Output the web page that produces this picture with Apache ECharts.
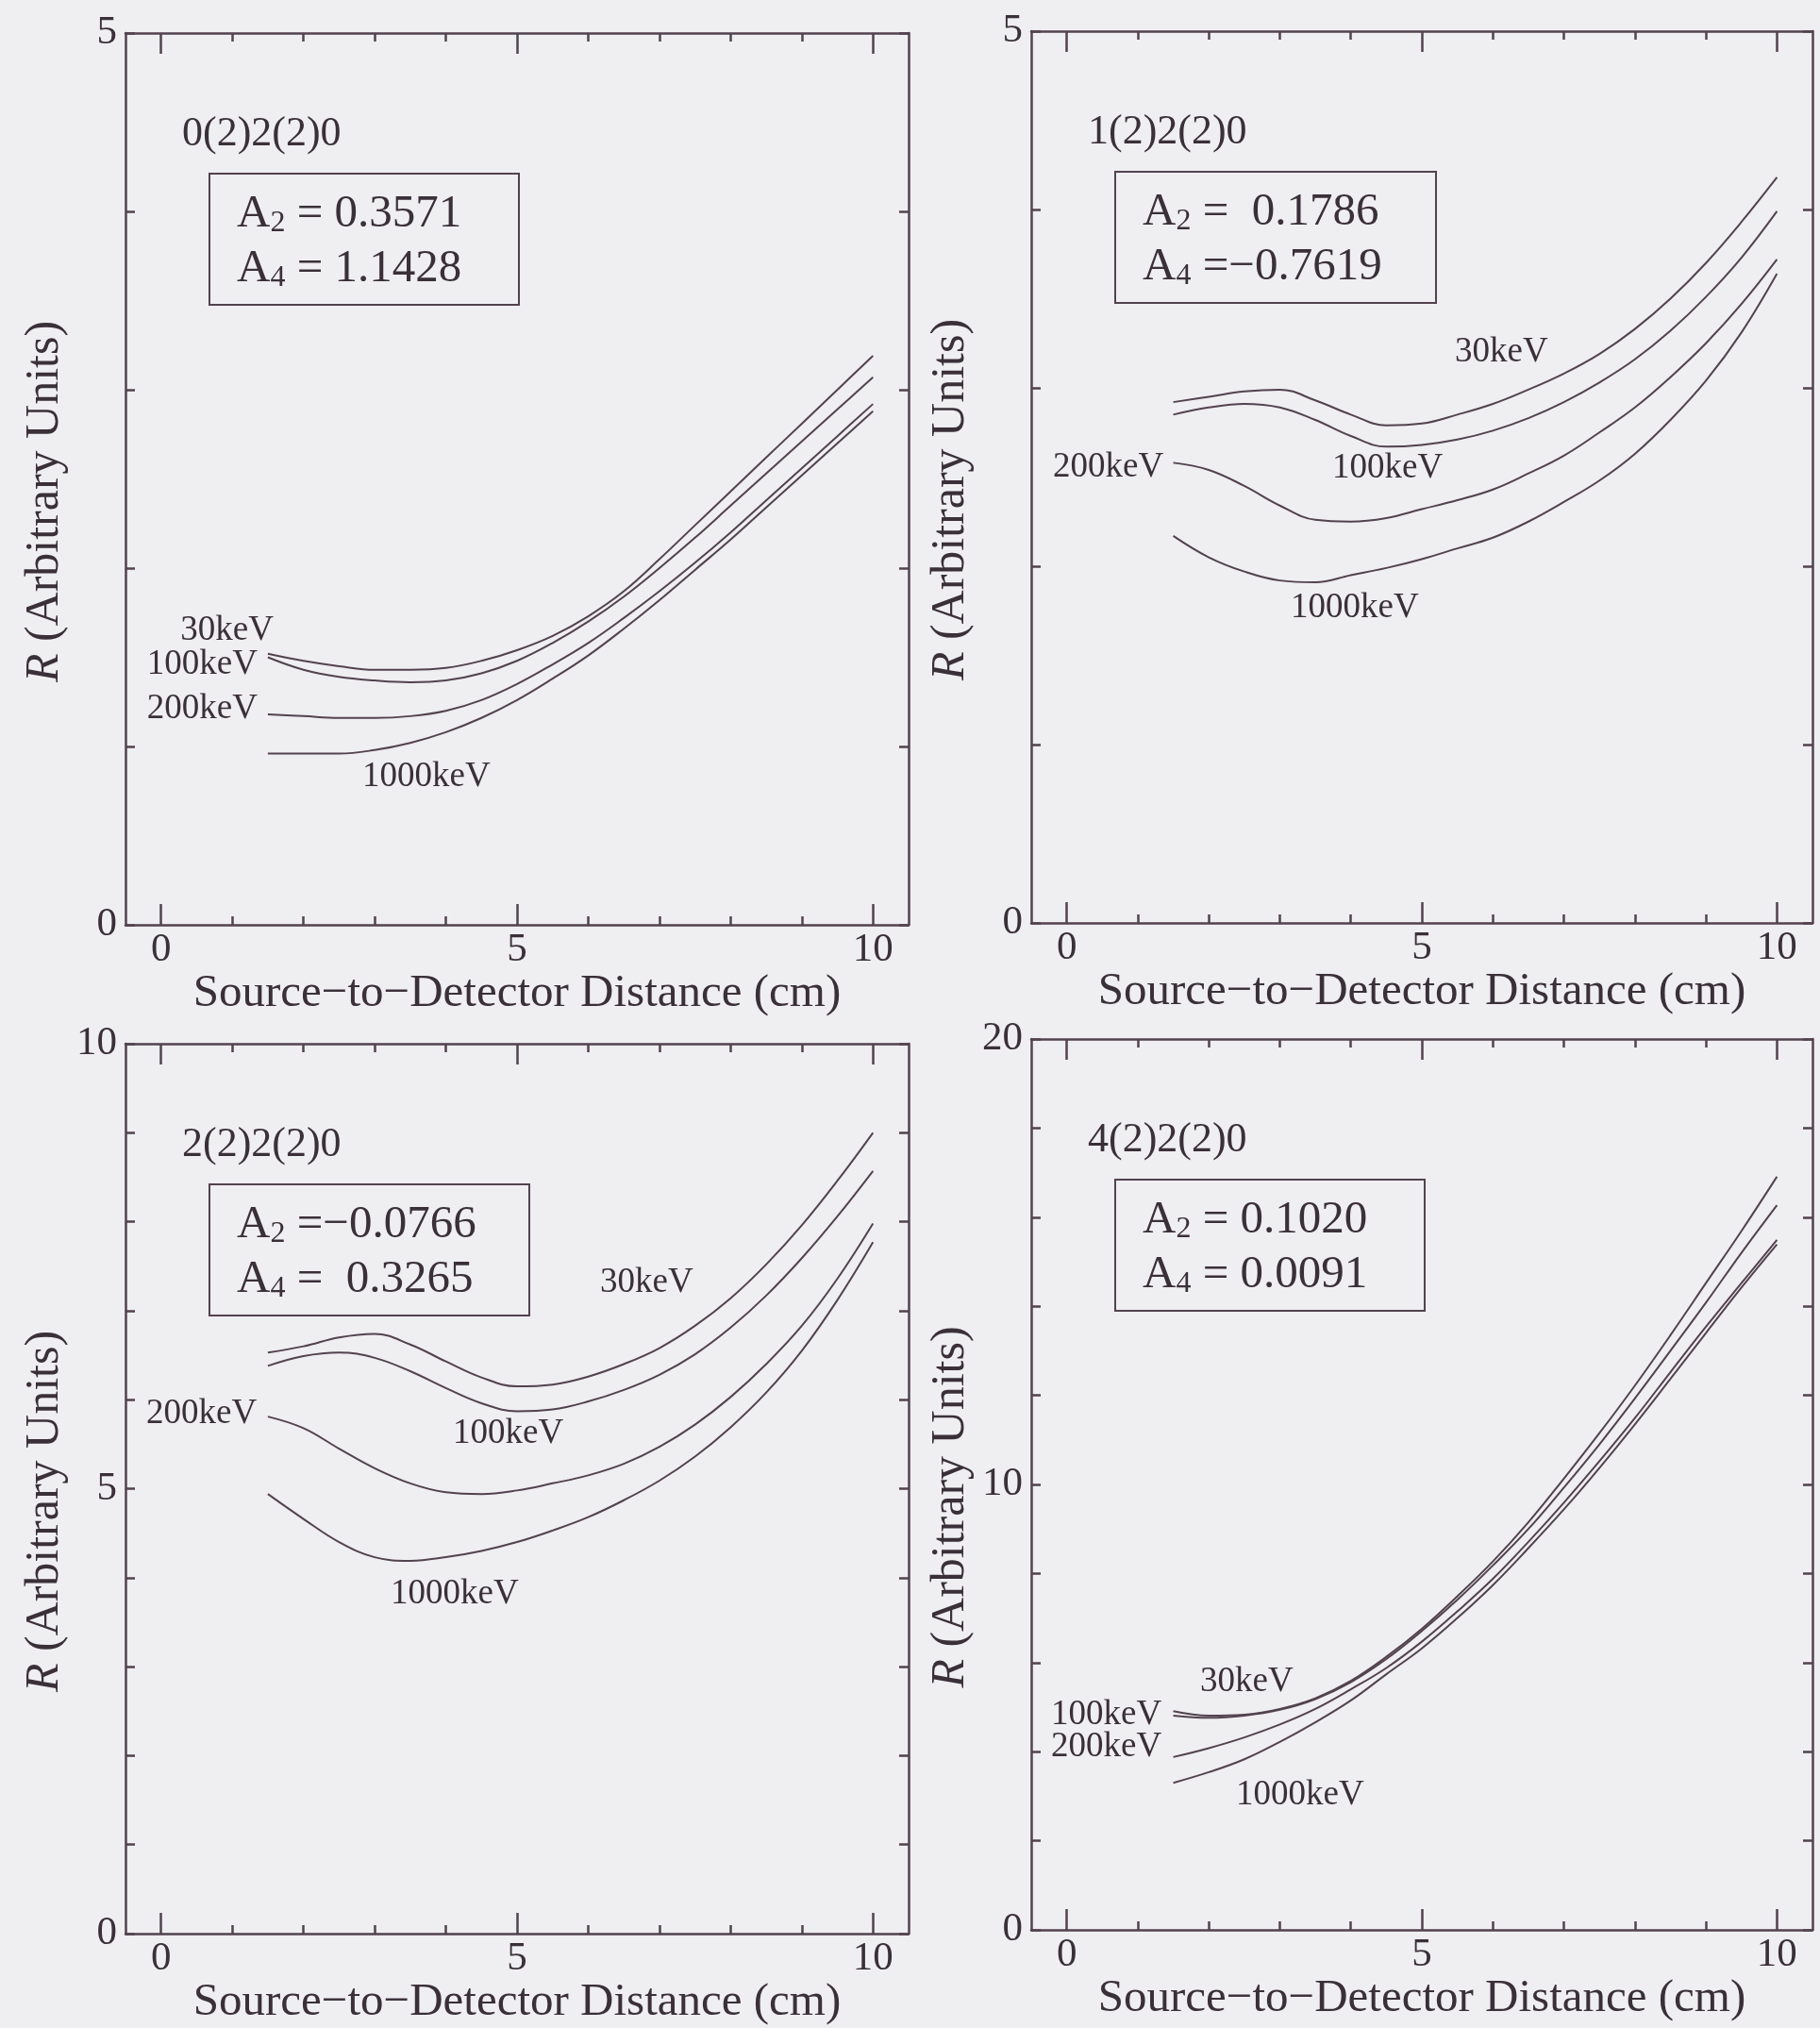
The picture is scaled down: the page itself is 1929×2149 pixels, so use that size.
<!DOCTYPE html>
<html><head><meta charset="utf-8">
<script src="https://cdn.jsdelivr.net/npm/echarts@6/dist/echarts.min.js"></script>
<style>html,body{margin:0;padding:0;background:#efeef1}#c{width:1929px;height:2149px}</style>
</head><body><div id="c"></div><script>
// ---------------- data ----------------
const distanceCm = [1.5,2,2.5,3,3.5,4,4.5,5,5.5,6,6.5,7,7.5,8,8.5,9,9.5,10];
const energyLabels = ['30keV','100keV','200keV','1000keV'];
const panelTitles = ['0(2)2(2)0','1(2)2(2)0','2(2)2(2)0','4(2)2(2)0'];
const a2Text = ['= 0.3571','=  0.1786','=\u22120.0766','= 0.1020'];
const a4Text = ['= 1.1428','=\u22120.7619','=  0.3265','= 0.0091'];
const xTitle = 'Source\u2212to\u2212Detector Distance (cm)';
const yTitle = '{it|R} (Arbitrary Units)';
const xLabelValues = [0,5,10];
const xMinorTicks = [1,2,3,4,6,7,8,9];
const yMax = [5,5,10,20];
const yStep = [1,1,1,2];
const yLabelValues = [[0,5],[0,5],[0,5,10],[0,10,20]];

// panel 1: 0(2)2(2)0
const p1_30keV   = [1.52,1.48,1.45,1.43,1.43,1.44,1.48,1.54,1.62,1.73,1.87,2.05,2.24,2.43,2.62,2.81,3.00,3.19];
const p1_100keV  = [1.50,1.43,1.39,1.37,1.36,1.37,1.41,1.48,1.58,1.70,1.84,2.00,2.17,2.35,2.53,2.71,2.89,3.07];
const p1_200keV  = [1.18,1.17,1.16,1.16,1.17,1.20,1.26,1.35,1.46,1.58,1.72,1.87,2.03,2.20,2.38,2.56,2.74,2.92];
const p1_1000keV = [0.96,0.96,0.96,0.98,1.02,1.08,1.16,1.26,1.38,1.51,1.66,1.82,1.99,2.16,2.34,2.52,2.70,2.88];
// panel 2: 1(2)2(2)0
const p2_30keV   = [2.92,2.95,2.98,2.99,2.93,2.85,2.79,2.80,2.85,2.91,2.99,3.08,3.19,3.33,3.50,3.70,3.93,4.18];
const p2_100keV  = [2.85,2.89,2.91,2.89,2.82,2.73,2.67,2.68,2.71,2.76,2.83,2.92,3.03,3.16,3.32,3.51,3.73,3.99];
const p2_200keV  = [2.58,2.54,2.45,2.34,2.26,2.25,2.27,2.32,2.37,2.43,2.52,2.62,2.75,2.89,3.06,3.25,3.47,3.72];
const p2_1000keV = [2.17,2.05,1.97,1.92,1.91,1.95,1.99,2.04,2.10,2.16,2.25,2.36,2.48,2.63,2.82,3.04,3.31,3.64];
// panel 3: 2(2)2(2)0
const p3_30keV   = [6.53,6.60,6.70,6.74,6.62,6.43,6.25,6.15,6.17,6.26,6.40,6.58,6.83,7.14,7.52,7.96,8.46,9.00];
const p3_100keV  = [6.38,6.49,6.53,6.47,6.32,6.13,5.96,5.87,5.89,5.98,6.11,6.28,6.51,6.81,7.17,7.59,8.06,8.57];
const p3_200keV  = [5.81,5.68,5.45,5.23,5.06,4.96,4.94,4.98,5.06,5.15,5.28,5.47,5.72,6.03,6.40,6.83,7.36,7.98];
const p3_1000keV = [4.94,4.66,4.40,4.23,4.19,4.23,4.30,4.40,4.53,4.68,4.87,5.09,5.36,5.69,6.08,6.55,7.12,7.77];
// panel 4: 4(2)2(2)0
const p4_30keV   = [4.91,4.81,4.83,4.96,5.20,5.59,6.13,6.76,7.49,8.27,9.15,10.13,11.15,12.22,13.35,14.52,15.69,16.91];
const p4_100keV  = [4.81,4.76,4.81,4.94,5.18,5.56,6.08,6.71,7.41,8.18,9.00,9.93,10.90,11.93,13.00,14.08,15.20,16.27];
const p4_200keV  = [3.88,4.08,4.32,4.61,4.96,5.40,5.88,6.47,7.15,7.88,8.71,9.59,10.52,11.49,12.52,13.54,14.52,15.49];
const p4_1000keV = [3.30,3.54,3.83,4.22,4.66,5.15,5.74,6.32,7.00,7.74,8.57,9.44,10.37,11.35,12.37,13.40,14.42,15.39];

const panelSeries = [
  [p1_30keV,p1_100keV,p1_200keV,p1_1000keV],
  [p2_30keV,p2_100keV,p2_200keV,p2_1000keV],
  [p3_30keV,p3_100keV,p3_200keV,p3_1000keV],
  [p4_30keV,p4_100keV,p4_200keV,p4_1000keV]
];

// ---------------- layout / style ----------------
const FONT = '"Liberation Serif","Times New Roman",serif';
const INK = '#3a3038';
const LINE = '#52434e';
const grids = [
  {left:133, top:35, width:830, height:945},
  {left:1093, top:33, width:828, height:945},
  {left:133, top:1106, width:830, height:943},
  {left:1093, top:1101, width:828, height:944}
];
const boxW = [328,340,339,328];
// curve label placement (absolute px): [x, y, align]
const curveLabelPos = [
  [[290,668,'right'],[273,704,'right'],[273,751,'right'],[384,823,'left']],
  [[1542,373,'left'],[1412,496,'left'],[1116,495,'left'],[1368,644,'left']],
  [[636,1359,'left'],[480,1519,'left'],[155,1498,'left'],[414,1689,'left']],
  [[1272,1782,'left'],[1114,1817,'left'],[1114,1851,'left'],[1310,1902,'left']]
];

const axisLineStyle = {color:LINE, width:2.5};
const xAxes = [], yAxes = [], series = [], graphics = [];

grids.forEach((g, i) => {
  const xb = {type:'value', gridIndex:i, min:-0.5, max:10.5, splitLine:{show:false}};
  xAxes.push(Object.assign({}, xb, {
    position:'bottom',
    axisLine:{show:true, onZero:false, lineStyle:axisLineStyle},
    axisTick:{show:true, inside:true, length:22, customValues:xLabelValues, lineStyle:axisLineStyle},
    axisLabel:{show:true, customValues:xLabelValues, margin:5, fontSize:43, fontFamily:FONT, color:INK},
    name:xTitle, nameLocation:'middle', nameGap:47,
    nameTextStyle:{fontSize:49, fontFamily:FONT, color:INK}
  }));
  xAxes.push(Object.assign({}, xb, {
    position:'bottom', axisLine:{show:false, onZero:false},
    axisTick:{show:true, inside:true, length:9, customValues:xMinorTicks, lineStyle:axisLineStyle},
    axisLabel:{show:false}
  }));
  xAxes.push(Object.assign({}, xb, {
    position:'top', axisLine:{show:true, onZero:false, lineStyle:axisLineStyle},
    axisTick:{show:true, inside:true, length:22, customValues:xLabelValues, lineStyle:axisLineStyle},
    axisLabel:{show:false}
  }));
  xAxes.push(Object.assign({}, xb, {
    position:'top', axisLine:{show:false, onZero:false},
    axisTick:{show:true, inside:true, length:9, customValues:xMinorTicks, lineStyle:axisLineStyle},
    axisLabel:{show:false}
  }));
  yAxes.push({
    type:'value', gridIndex:i, min:0, max:yMax[i], interval:yStep[i], position:'left',
    splitLine:{show:false},
    axisLine:{show:true, onZero:false, lineStyle:axisLineStyle},
    axisTick:{show:true, inside:true, length:10, lineStyle:axisLineStyle},
    axisLabel:{show:true, customValues:yLabelValues[i], margin:9, fontSize:43, fontFamily:FONT, color:INK}
  });
  yAxes.push({
    type:'value', gridIndex:i, min:0, max:yMax[i], interval:yStep[i], position:'right',
    splitLine:{show:false},
    axisLine:{show:true, onZero:false, lineStyle:axisLineStyle},
    axisTick:{show:true, inside:true, length:10, lineStyle:axisLineStyle},
    axisLabel:{show:false}
  });

  panelSeries[i].forEach((vals, k) => {
    series.push({
      type:'line', name:energyLabels[k], xAxisIndex:i*4, yAxisIndex:i*2,
      data: distanceCm.map((d, j) => [d, vals[j]]),
      smooth:0.4, showSymbol:false, silent:true,
      lineStyle:{color:LINE, width:2}
    });
  });

  // y-axis title (rotated), slightly below the panel's middle as in the source
  graphics.push({type:'text', x:g.left-85, y:g.top+g.height/2+24, rotation:Math.PI/2,
    style:{text:yTitle, fontSize:50, fontFamily:FONT, fill:INK,
      textAlign:'center', textVerticalAlign:'middle',
      rich:{it:{fontStyle:'italic', fontSize:50, fontFamily:FONT, fill:INK}}}});
  // panel title
  graphics.push({type:'text', x:g.left+60, y:g.top+107,
    style:{text:panelTitles[i], fontSize:44, fontFamily:FONT, fill:INK, textVerticalAlign:'middle'}});
  // coefficient box
  graphics.push({type:'rect', shape:{x:g.left+89, y:g.top+149, width:boxW[i], height:139},
    style:{fill:'none', stroke:LINE, lineWidth:2}});
  [['2', a2Text[i], 192], ['4', a4Text[i], 250]].forEach(([sub, txt, dy]) => {
    graphics.push({type:'text', x:g.left+118, y:g.top+dy,
      style:{text:'{b|A}{s|' + sub + '}{b| ' + txt + '}', textVerticalAlign:'middle',
        fontSize:49, fontFamily:FONT, fill:INK,
        rich:{
          b:{fontSize:49, fontFamily:FONT, fill:INK, lineHeight:52},
          s:{fontSize:32, fontFamily:FONT, fill:INK, lineHeight:18, verticalAlign:'bottom'}
        }}});
  });
  // curve labels
  curveLabelPos[i].forEach((p, k) => {
    graphics.push({type:'text', x:p[0], y:p[1],
      style:{text:energyLabels[k], fontSize:37, fontFamily:FONT, fill:INK,
        textAlign:p[2], textVerticalAlign:'middle'}});
  });
});

const chart = echarts.init(document.getElementById('c'), null, {renderer:'canvas'});
chart.setOption({
  animation:false,
  backgroundColor:'#efeef1',
  grid: grids,
  xAxis: xAxes,
  yAxis: yAxes,
  series: series,
  graphic: graphics
});
</script></body></html>
